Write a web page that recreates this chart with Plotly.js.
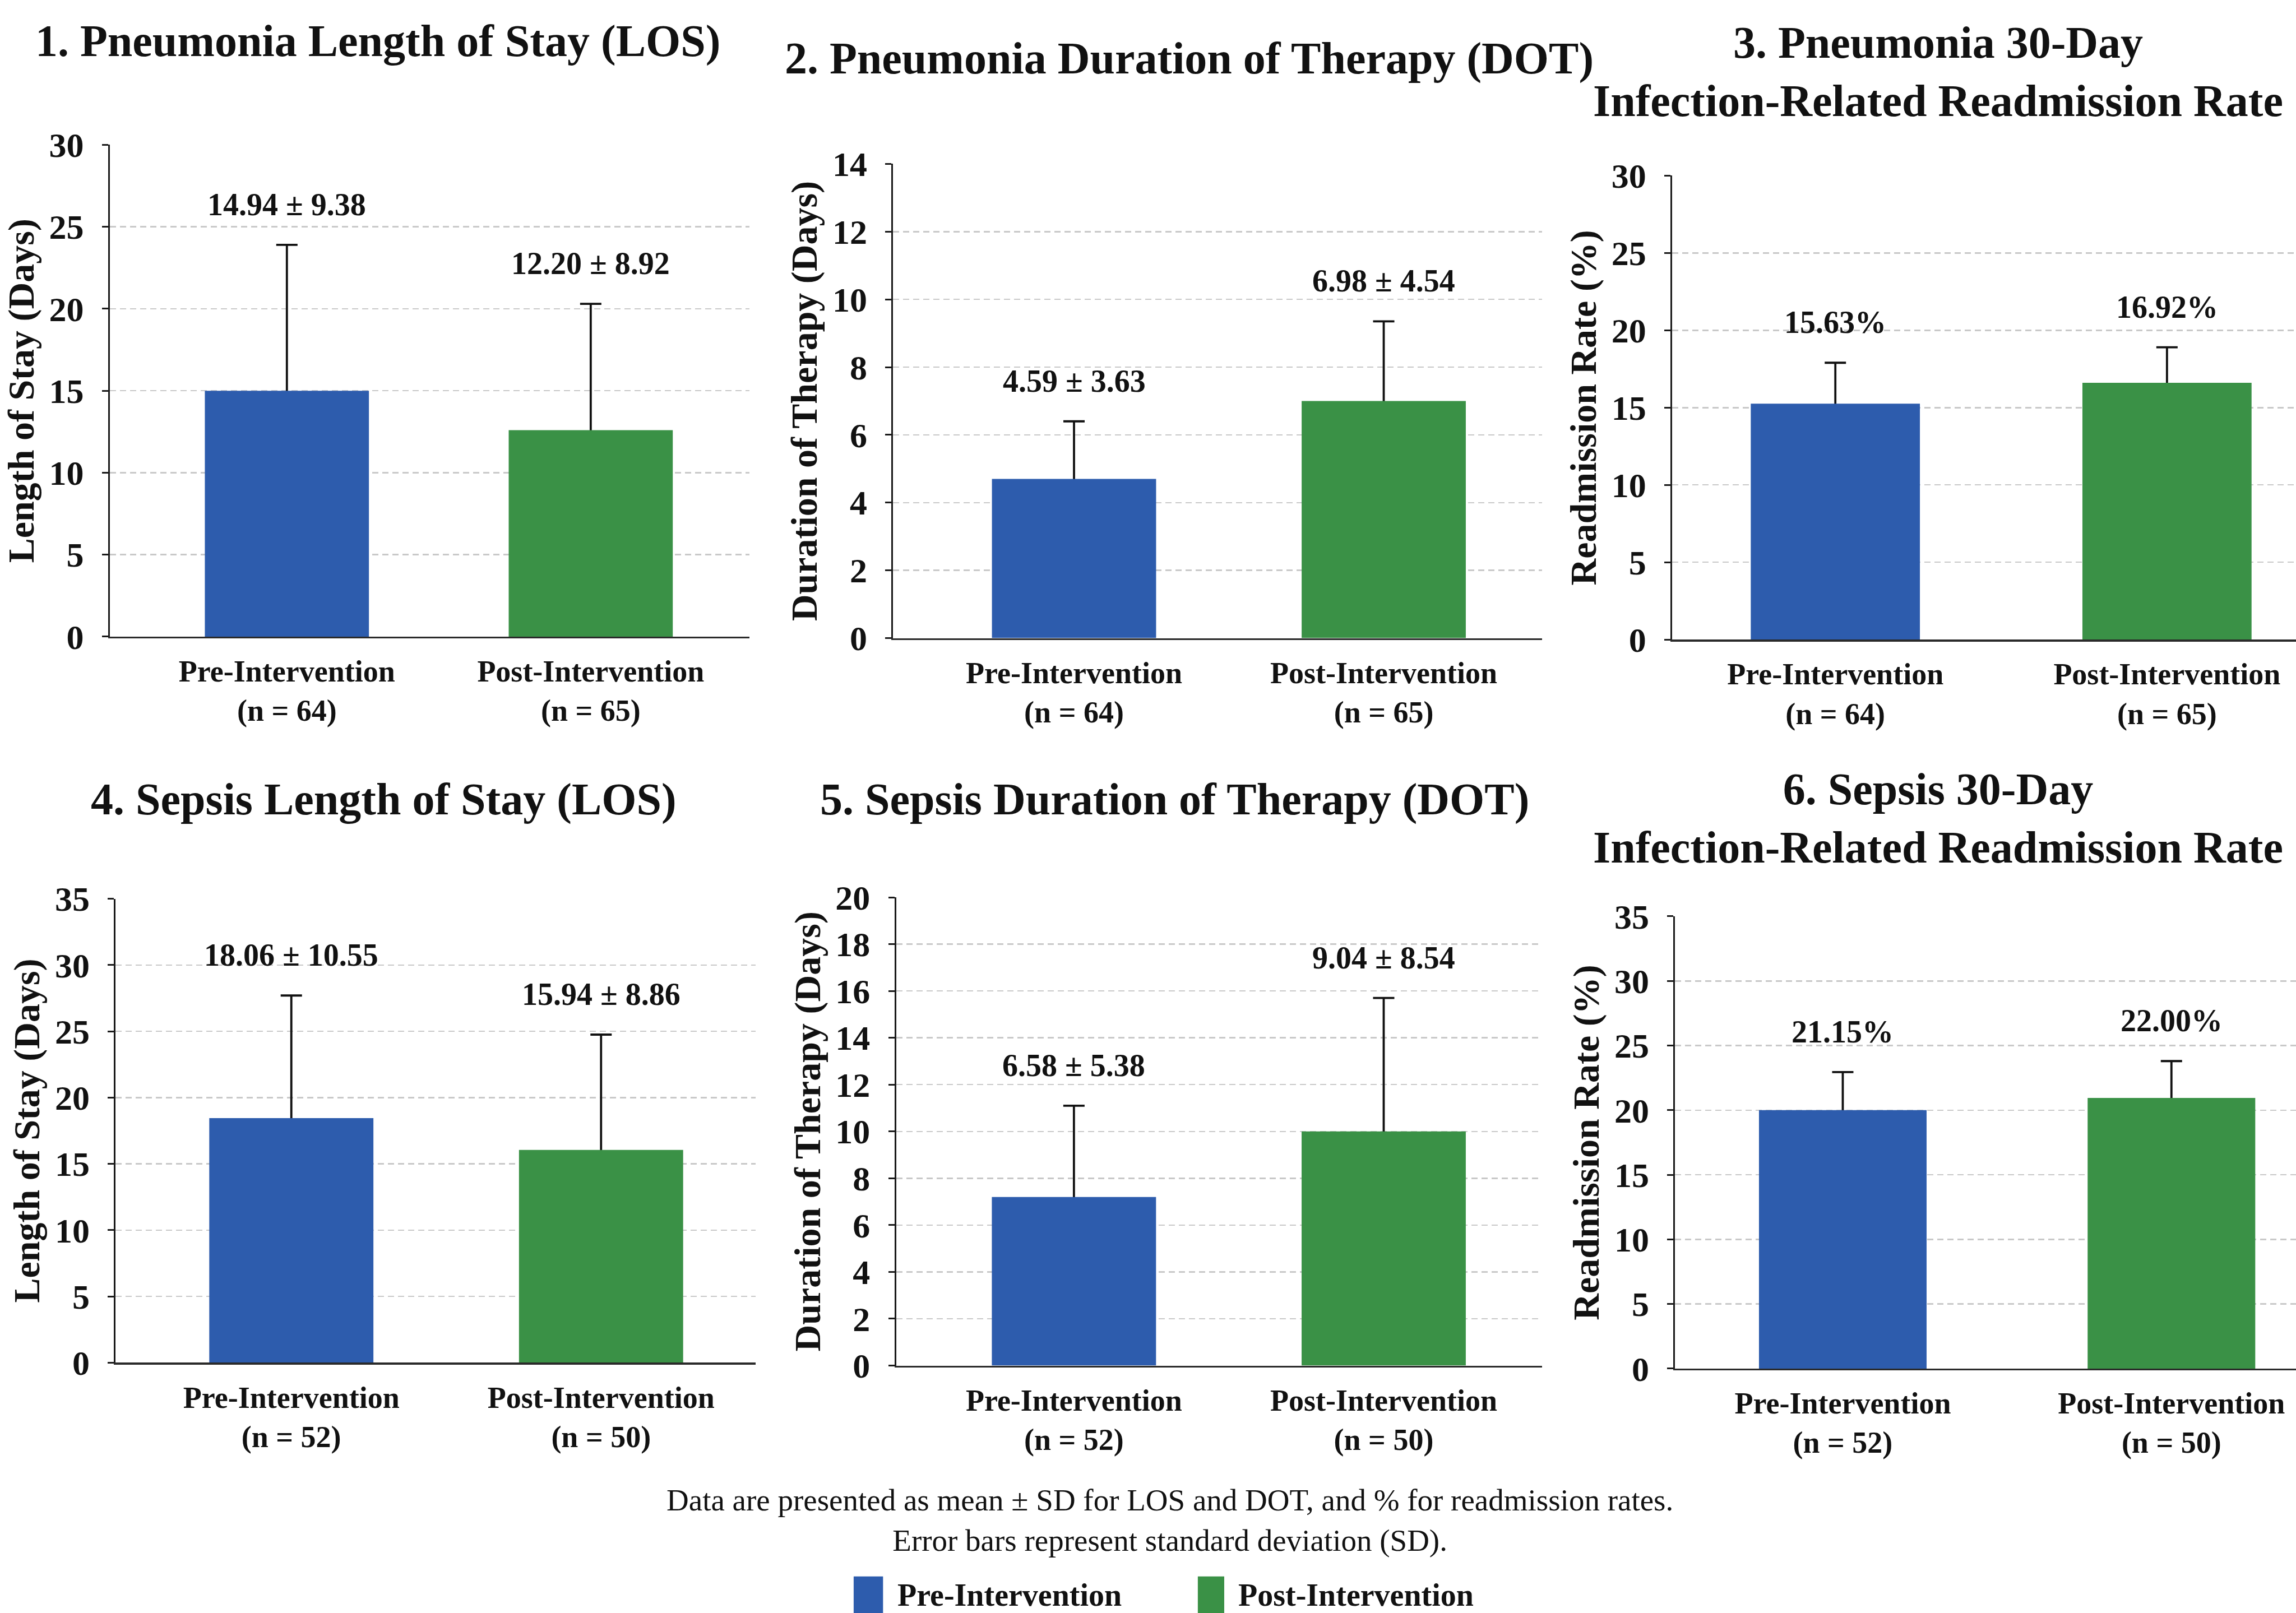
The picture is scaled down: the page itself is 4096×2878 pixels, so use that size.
<!DOCTYPE html>
<html>
<head>
<meta charset="utf-8">
<script src="https://cdn.plot.ly/plotly-3.0.1.min.js"></script>
<style>
  html, body { margin: 0; padding: 0; background: #ffffff; }
  #chart { width: 4096px; height: 2878px; }
</style>
</head>
<body>
<div id="chart"></div>
<script>
// ---------------- DATA ----------------
const panelTitles = [
  "1. Pneumonia Length of Stay (LOS)",
  "2. Pneumonia Duration of Therapy (DOT)",
  "3. Pneumonia 30-Day<br>Infection-Related Readmission Rate",
  "4. Sepsis Length of Stay (LOS)",
  "5. Sepsis Duration of Therapy (DOT)",
  "6. Sepsis 30-Day<br>Infection-Related Readmission Rate"
];
const yAxisTitles = [
  "Length of Stay (Days)",
  "Duration of Therapy (Days)",
  "Readmission Rate (%)",
  "Length of Stay (Days)",
  "Duration of Therapy (Days)",
  "Readmission Rate (%)"
];
const pneumoniaCategories = ["Pre-Intervention<br>(n = 64)", "Post-Intervention<br>(n = 65)"];
const sepsisCategories    = ["Pre-Intervention<br>(n = 52)", "Post-Intervention<br>(n = 50)"];

// bar heights and upper error lengths as drawn in the figure
const pneumoniaLOS        = [15.0, 12.6];
const pneumoniaLOSError   = [8.9, 7.7];
const pneumoniaLOSLabels  = ["14.94 ± 9.38", "12.20 ± 8.92"];

const pneumoniaDOT        = [4.7, 7.0];
const pneumoniaDOTError   = [1.7, 2.35];
const pneumoniaDOTLabels  = ["4.59 ± 3.63", "6.98 ± 4.54"];

const pneumoniaReadmit        = [15.25, 16.6];
const pneumoniaReadmitError   = [2.65, 2.3];
const pneumoniaReadmitLabels  = ["15.63%", "16.92%"];

const sepsisLOS        = [18.45, 16.05];
const sepsisLOSError   = [9.25, 8.7];
const sepsisLOSLabels  = ["18.06 ± 10.55", "15.94 ± 8.86"];

const sepsisDOT        = [7.2, 10.0];
const sepsisDOTError   = [3.9, 5.7];
const sepsisDOTLabels  = ["6.58 ± 5.38", "9.04 ± 8.54"];

const sepsisReadmit        = [20.0, 20.95];
const sepsisReadmitError   = [2.95, 2.85];
const sepsisReadmitLabels  = ["21.15%", "22.00%"];

const yAxisMax   = [30, 14, 30, 35, 20, 35];
const yAxisStep  = [5, 2, 5, 5, 2, 5];

const legendNames = ["Pre-Intervention", "Post-Intervention"];
const footnote = "Data are presented as mean ± SD for LOS and DOT, and % for readmission rates.<br>Error bars represent standard deviation (SD).";

// ---------------- STYLE ----------------
const FONT = "'Liberation Serif', 'Times New Roman', Times, serif";
const BLUE = "#2d5cad";
const GREEN = "#3a9146";
const INK = "#111111";

const panelData = [
  {cats: pneumoniaCategories, vals: pneumoniaLOS, err: pneumoniaLOSError, labels: pneumoniaLOSLabels},
  {cats: pneumoniaCategories, vals: pneumoniaDOT, err: pneumoniaDOTError, labels: pneumoniaDOTLabels},
  {cats: pneumoniaCategories, vals: pneumoniaReadmit, err: pneumoniaReadmitError, labels: pneumoniaReadmitLabels},
  {cats: sepsisCategories, vals: sepsisLOS, err: sepsisLOSError, labels: sepsisLOSLabels},
  {cats: sepsisCategories, vals: sepsisDOT, err: sepsisDOTError, labels: sepsisDOTLabels},
  {cats: sepsisCategories, vals: sepsisReadmit, err: sepsisReadmitError, labels: sepsisReadmitLabels}
];

// layout geometry (paper fractions) per panel
const geom = [
  {xd: [0.0478, 0.3265], yd: [0.6053, 0.9102], xr: [-0.583, 1.523], bw: 0.54, tx: 0.1645, ty: 0.9746},
  {xd: [0.3890, 0.6716], yd: [0.6044, 0.8984], xr: [-0.584, 1.511], bw: 0.53, tx: 0.5179, ty: 0.9637},
  {xd: [0.7283, 1.0000], yd: [0.6035, 0.8911], xr: [-0.492, 1.389], bw: 0.51, tx: 0.8440, ty: 0.9555},
  {xd: [0.0504, 0.3291], yd: [0.1552, 0.4428], xr: [-0.567, 1.499], bw: 0.53, tx: 0.1671, ty: 0.5045},
  {xd: [0.3903, 0.6716], yd: [0.1534, 0.4437], xr: [-0.574, 1.511], bw: 0.53, tx: 0.5115, ty: 0.5045},
  {xd: [0.7296, 1.0000], yd: [0.1515, 0.4319], xr: [-0.510, 1.379], bw: 0.51, tx: 0.8440, ty: 0.4927}
];

const traces = [];
const annotations = [];
const layout = {
  width: 4096, height: 2878,
  margin: {l: 0, r: 0, t: 0, b: 0},
  paper_bgcolor: "#ffffff",
  plot_bgcolor: "rgba(0,0,0,0)",
  barmode: "overlay",
  showlegend: false,
  font: {family: FONT, color: INK, size: 56, weight: "bold"},
  annotations: annotations,
  shapes: []
};

panelData.forEach((p, i) => {
  const g = geom[i];
  const s = i === 0 ? "" : String(i + 1);
  const xa = "x" + s, ya = "y" + s;

  // error bars carried by a transparent twin so the bar body hides the lower half
  traces.push({
    type: "bar", x: p.cats, y: p.vals, xaxis: xa, yaxis: ya, width: g.bw,
    marker: {color: "rgba(0,0,0,0)"},
    error_y: {type: "data", array: p.err, symmetric: true, color: INK, thickness: 3.8, width: 19},
    hoverinfo: "skip", showlegend: false, name: "SD"
  });
  traces.push({
    type: "bar", x: p.cats, y: p.vals, xaxis: xa, yaxis: ya, width: g.bw,
    marker: {color: [BLUE, GREEN], line: {width: 0}},
    showlegend: false, name: panelTitles[i].replace("<br>", " ")
  });

  layout["xaxis" + s] = {
    domain: g.xd, anchor: ya, type: "category", range: g.xr,
    showline: true, linecolor: "#2a2a2a", linewidth: 3.5,
    ticks: "", showgrid: false, zeroline: false,
    tickfont: {family: FONT, size: 54, color: INK, weight: "bold"},
    ticklabelstandoff: 12, fixedrange: true
  };
  layout["yaxis" + s] = {
    domain: g.yd, anchor: xa, range: [0, yAxisMax[i]], dtick: yAxisStep[i], tick0: 0,
    showline: true, linecolor: "#1a1a1a", linewidth: 3,
    ticks: "outside", ticklen: 11, tickwidth: 3, tickcolor: "#1a1a1a",
    showgrid: true, gridcolor: "#c9c9c9", gridwidth: 2.5, griddash: "11px,7px",
    zeroline: false,
    tickfont: {family: FONT, size: 62, color: INK, weight: "bold"},
    ticklabelstandoff: 20,
    title: {text: yAxisTitles[i], font: {family: FONT, size: 66, color: INK, weight: "bold"}, standoff: 6},
    fixedrange: true
  };

  // value labels above the error bars
  p.cats.forEach((c, j) => {
    annotations.push({
      xref: xa, yref: ya, x: c, y: p.vals[j] + p.err[j],
      text: p.labels[j], showarrow: false, yanchor: "middle", xanchor: "center", yshift: 72,
      font: {family: FONT, size: 56, color: INK, weight: "bold"}
    });
  });

  // panel title
  annotations.push({
    xref: "paper", yref: "paper", x: g.tx, y: g.ty, xanchor: "center", yanchor: "middle",
    text: panelTitles[i], showarrow: false, align: "center",
    font: {family: FONT, size: 80, color: INK, weight: "bold"}
  });
});

// footnote
annotations.push({
  xref: "paper", yref: "paper", x: 0.5095, y: 0.0576, xanchor: "center", yanchor: "middle",
  text: footnote, showarrow: false, align: "center",
  font: {family: FONT, size: 55, color: INK, weight: "normal"}
});

// legend (swatch + label)
const legendColors = [BLUE, GREEN];
const legendSwatchX = [[0.3718, 0.3846], [0.5217, 0.5332]];
const legendTextX = [0.3903, 0.5389];
legendNames.forEach((n, k) => {
  layout.shapes.push({
    type: "rect", xref: "paper", yref: "paper",
    x0: legendSwatchX[k][0], x1: legendSwatchX[k][1], y0: -0.01, y1: 0.0227,
    fillcolor: legendColors[k], line: {width: 0}
  });
  annotations.push({
    xref: "paper", yref: "paper", x: legendTextX[k], y: 0.011, xanchor: "left", yanchor: "middle",
    text: n, showarrow: false,
    font: {family: FONT, size: 56, color: INK, weight: "bold"}
  });
});

Plotly.newPlot("chart", traces, layout, {displayModeBar: false, staticPlot: true});
</script>
</body>
</html>
